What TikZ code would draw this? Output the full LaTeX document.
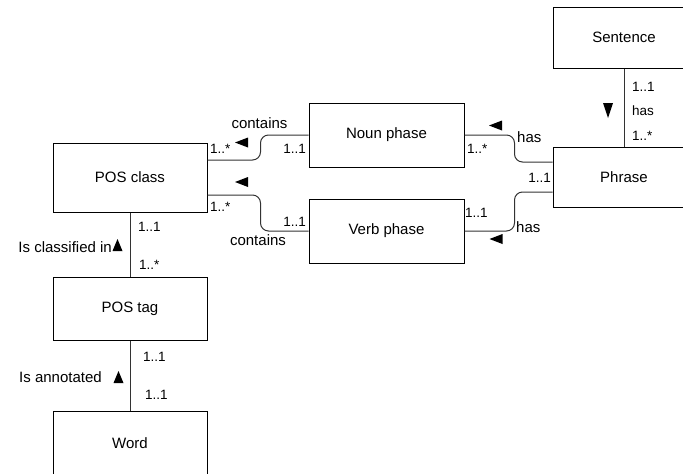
\documentclass[tikz,border=0pt]{standalone}
\usepackage{fontspec}
\setmainfont{Liberation Sans}
% filled direction markers: left, down, up
\newcommand{\markL}[2]{\fill[marker] (#1,#2) ++(-6.5,0) -- ++(13,-5) -- ++(0,10) -- cycle;}
\newcommand{\markD}[2]{\fill[marker] (#1,#2) ++(0,7.5) -- ++(-5,-15) -- ++(10,0) -- cycle;}
\newcommand{\markU}[2]{\fill[marker] (#1,#2) ++(0,-6) -- ++(-5,12) -- ++(10,0) -- cycle;}
\begin{document}
\begin{tikzpicture}[x=1pt,y=-1pt,
  entity/.style={draw=black, line width=1pt, fill=white, inner sep=0pt,
    font=\fontsize{15}{18}\selectfont},
  conn/.style={draw=black!80, line width=1pt, rounded corners=8pt},
  lbl/.style={inner sep=0pt, font=\fontsize{15}{18}\selectfont},
  card/.style={inner sep=0pt, font=\fontsize{13.5}{16}\selectfont},
  marker/.style={fill=black}]
\useasboundingbox (0,0) rectangle (683,474);
\begin{scope}
\clip (0,0) rectangle (683,474);

% entities
\node[entity, minimum width=142pt, minimum height=61pt] (sentence) at (624,37.5) {Sentence};
\node[entity, minimum width=142pt, minimum height=60pt] (phrase) at (624,177) {Phrase};
\node[entity, minimum width=155pt, minimum height=64pt] (noun) at (386.5,135) {Noun phase};
\node[entity, minimum width=155pt, minimum height=64pt] (verb) at (386.5,231) {Verb phase};
\node[entity, minimum width=154pt, minimum height=69pt] (posclass) at (130,177.5) {POS class};
\node[entity, minimum width=154pt, minimum height=63pt] (postag) at (130,308.5) {POS tag};
\node[entity, minimum width=154pt, minimum height=65pt] (word) at (130,443.5) {Word};

% associations
\draw[conn] ([yshift=17.5pt]posclass.east) -- ++(53,0) |- (noun.west);
\draw[conn] ([yshift=-17.5pt]posclass.east) -- ++(53,0) |- (verb.west);
\draw[conn] (noun.east) -- ++(50,0) |- ([yshift=15pt]phrase.west);
\draw[conn] (verb.east) -- ++(50,0) |- ([yshift=-15pt]phrase.west);
\draw[conn] (sentence.south) -- (phrase.north);
\draw[conn] (posclass.south) -- (postag.north);
\draw[conn] (postag.south) -- (word.north);

% POS class -- Noun phase
\node[lbl] (c1) at (259.5,123) {contains};
\node[card, anchor=west] (c1a) at (210,149) {1..*};
\node[card, anchor=east] (c1b) at (306,149) {1..1};
\markL{241.5}{142.5}

% POS class -- Verb phase
\node[lbl, fill=white, inner ysep=1.5pt] (c2) at (258,240) {contains};
\node[card, anchor=west] (c2a) at (210,207) {1..*};
\node[card, anchor=east] (c2b) at (306,222) {1..1};
\markL{241.5}{182}

% Noun phase -- Phrase
\node[card, anchor=west] (h1a) at (467,149) {1..*};
\node[lbl, anchor=west] (h1) at (517,137) {has};
\node[card, anchor=east] (h1b) at (551,178) {1..1};
\markL{495.5}{125.5}

% Verb phase -- Phrase
\node[card, anchor=west] (h2a) at (465,213) {1..1};
\node[lbl, anchor=west] (h2) at (516,227) {has};
\markL{496}{239}

% Sentence -- Phrase
\node[card, anchor=west] (s1) at (632,87) {1..1};
\node[card, anchor=west] (s2) at (632,111) {has};
\node[card, anchor=west] (s3) at (632,136) {1..*};
\markD{608}{110.5}

% POS class -- POS tag
\node[card, anchor=west] (p1) at (138,227) {1..1};
\node[lbl, anchor=east] (p2) at (112,247) {Is classified in};
\node[card, anchor=west] (p3) at (139,265) {1..*};
\markU{117.5}{245}

% POS tag -- Word
\node[card, anchor=west] (w1) at (143,357) {1..1};
\node[lbl, anchor=east] (w2) at (102,377) {Is annotated};
\node[card, anchor=west] (w3) at (145,395) {1..1};
\markU{118.5}{377}
\end{scope}
\end{tikzpicture}
\end{document}
